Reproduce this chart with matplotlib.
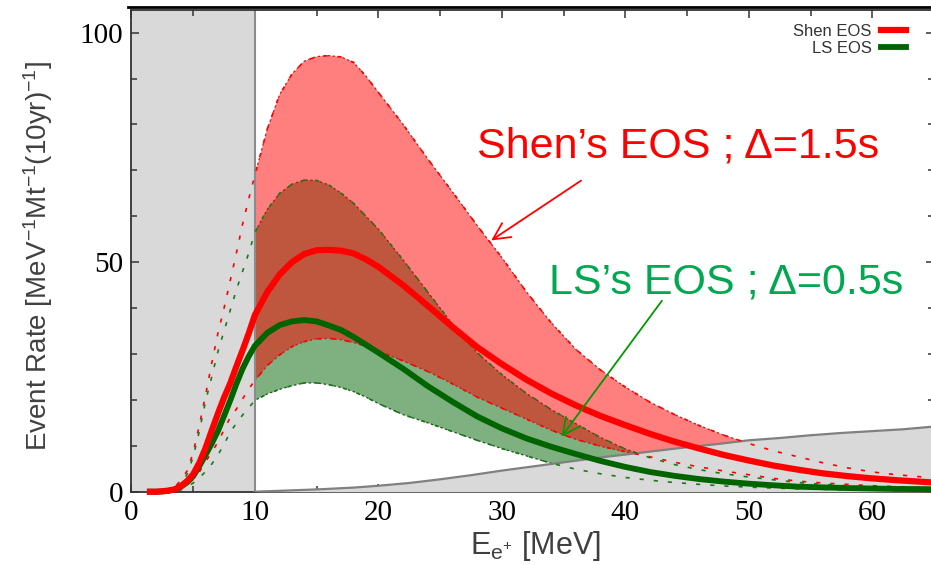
import numpy as np
import matplotlib.pyplot as plt
from matplotlib.ticker import MultipleLocator
from matplotlib.lines import Line2D

# positron energy grid [MeV] and event rates
energy = [1.5, 2, 2.5, 3, 3.5, 4, 4.5, 5, 5.5, 6, 6.5, 7, 7.5, 8, 8.5, 9, 9.5,
          10, 11, 12, 13, 14, 15, 16, 17, 18, 19, 20, 22, 24, 26, 28, 30, 32,
          34, 36, 38, 40, 42, 44, 46, 48, 50, 52, 54, 56, 58, 60, 62, 65]

shen_hi = [0, 0, 0, 0.3, 1.0, 2.5, 4.5, 8.5, 14.5, 21, 28, 34.5, 40, 46, 52, 58.3, 63.8,
           69, 79, 86.5, 91, 93.8, 94.8, 95, 94.7, 93.5, 90.5, 87, 80, 72.5, 65.3, 58, 51, 43.5,
           36.8, 31, 26.5, 22.8, 19.5, 16.8, 14.4, 12.3, 10.5, 8.9, 7.6, 6.3, 5.2, 4.3, 3.7, 3.0]
shen_mid = [0, 0, 0.1, 0.25, 0.5, 1.2, 2.3, 3.8, 6.3, 9.5, 13.3, 17, 20.5, 23.6, 27.3, 30.8, 34.5,
            38.5, 43.5, 47.3, 50, 51.8, 52.6, 52.7, 52.5, 51.9, 50.6, 49.0, 45.0, 40.5, 35.9, 31.5, 27.8, 24.4,
            21.4, 18.8, 16.5, 14.5, 12.6, 10.9, 9.4, 8.0, 6.8, 5.7, 4.8, 4.0, 3.4, 2.9, 2.5, 2.0]
shen_lo = [0, 0, 0, 0, 0.1, 0.6, 1.5, 2.7, 4.3, 6.5, 8.6, 10.8, 13.5, 16.2, 18, 20.2, 22.4,
           24.2, 27.5, 29.8, 31.6, 32.7, 33.3, 33.4, 33.1, 32.5, 31.7, 30.6, 28.5, 26.2, 23.5, 20.6, 18.2, 15.8,
           13.4, 11.4, 9.9, 8.7, 7.6, 6.4, 5.4, 4.5, 3.7, 2.9, 2.3, 1.9, 1.6, 1.3, 1.1, 0.8]

ls_hi = [0, 0, 0, 0, 0.4, 1.5, 3.8, 7.6, 13.2, 19.7, 25, 30.5, 35, 39.5, 44, 48, 52,
         56.5, 61.5, 65, 67, 67.9, 67.8, 66.8, 65, 62.8, 60, 57.2, 50.5, 43.5, 36.5, 30.3, 25.5, 21.4,
         17.9, 14.8, 11.8, 9.3, 7.4, 5.9, 4.8, 3.9, 3.2, 2.6, 2.0, 1.6, 1.3, 1.0, 0.8, 0.6]
ls_mid = [0, 0, 0.05, 0.2, 0.5, 1.1, 2.0, 3.4, 5.6, 8.0, 10.5, 13.2, 16.5, 19.9, 23.5, 26.8, 29.5,
          31.8, 34.6, 36.3, 37.1, 37.4, 37.1, 36.2, 35.2, 33.7, 32, 30.3, 26.8, 23, 19.6, 16.4, 13.8, 11.6,
          9.8, 8.2, 6.7, 5.4, 4.3, 3.45, 2.75, 2.2, 1.75, 1.4, 1.1, 0.95, 0.8, 0.7, 0.6, 0.55]
ls_lo = [0, 0, 0, 0, 0.1, 0.4, 1.0, 1.9, 3.0, 4.4, 6.0, 8.0, 10.3, 13.0, 14.9, 16.7, 18.3,
         19.9, 21.3, 22.3, 23.1, 23.7, 23.7, 23.3, 22.7, 21.8, 20.6, 19.2, 16.8, 15, 13.1, 11.2, 9.4, 7.8,
         6.2, 4.9, 3.9, 3.1, 2.5, 2.0, 1.6, 1.25, 1.0, 0.8, 0.65, 0.5, 0.4, 0.35, 0.3, 0.2]

# background spectrum (grey area)
bg_energy = [10, 12, 15, 18, 20, 22.5, 25, 27.5, 30, 32.5, 35, 37.5, 40, 42.5, 45,
             47.5, 50, 52.5, 55, 57.5, 60, 62.5, 65]
bg_rate = [0, 0.2, 0.5, 0.9, 1.3, 1.9, 2.7, 3.6, 4.6, 5.5, 6.4, 7.3, 8.1, 8.9, 9.7,
           10.4, 11.2, 11.7, 12.3, 12.8, 13.2, 13.6, 14.2]

xticks = [0, 10, 20, 30, 40, 50, 60]
yticks = [0, 50, 100]

plt.rcParams['font.family'] = ['Liberation Sans', 'DejaVu Sans']
plt.rcParams['mathtext.fontset'] = 'custom'
plt.rcParams['mathtext.rm'] = 'Liberation Sans'
plt.rcParams['mathtext.it'] = 'Liberation Sans:italic'

E = np.array(energy)
band = E >= 10

fig = plt.figure(figsize=(9.31, 5.65), dpi=100)
ax = fig.add_axes([0.1412, 0.1297, 0.862, 0.8531])

# threshold region
ax.axvspan(0, 10, color='#d9d9d9', lw=0, zorder=0)
ax.axvline(10, color='#8c8c8c', lw=1.5, zorder=2)

# bands (50% alpha -> overlap turns brown)
ax.fill_between(E, ls_lo, ls_hi, where=band, facecolor=(0, 0.39, 0, 0.5),
                edgecolor='#1f4f1f', lw=0.9, linestyle=(0, (2, 2)), zorder=1)
ax.fill_between(E, shen_lo, shen_hi, where=band, facecolor=(1, 0, 0, 0.5),
                edgecolor='#c02020', lw=0.9, linestyle=(0, (2, 2)), zorder=1)

# background
ax.fill_between(bg_energy, 0, bg_rate, color='#d9d9d9', lw=0, zorder=3)
ax.plot(bg_energy, bg_rate, color='#808080', lw=1.6, zorder=3.5)

# band edges, dashed over full range
for y, c in [(shen_hi, 'red'), (shen_lo, 'red'), (ls_hi, '#1a7a1a'), (ls_lo, '#1a7a1a')]:
    ax.plot(E, y, color=c, lw=1.2, dashes=(2.5, 6), zorder=4)

ax.plot(E, ls_mid, color='#006400', lw=4.2, label='LS EOS', zorder=5, clip_on=False)
ax.plot(E, shen_mid, color='red', lw=4.5, label='Shen EOS', zorder=6, clip_on=False)

ax.annotate('', xy=(28.95, 54.4), xytext=(36.6, 68.1), zorder=7,
            arrowprops=dict(arrowstyle='->,head_length=0.6,head_width=0.3',
                            color='red', lw=1.3, mutation_scale=20))
ax.annotate('', xy=(34.7, 11.5), xytext=(43.1, 42.1), zorder=7,
            arrowprops=dict(arrowstyle='->,head_length=0.6,head_width=0.3',
                            color='#009a00', lw=1.3, mutation_scale=20))
ax.text(28.0, 72.7, 'Shen\u2019s EOS ; \u0394=1.5s', color='red', fontsize=31, va='baseline', zorder=8)
ax.text(33.8, 43.2, 'LS\u2019s EOS ; \u0394=0.5s', color='#00a850', fontsize=31, va='baseline', zorder=8)

ax.set_xlim(0, 65)
ax.set_ylim(0, 105)
ax.set_xticks(xticks, [str(t) for t in xticks], fontfamily='Liberation Serif')
ax.set_yticks(yticks, [str(t) for t in yticks], fontfamily='Liberation Serif')
ax.xaxis.set_minor_locator(MultipleLocator(5))
ax.yaxis.set_minor_locator(MultipleLocator(10))
ax.tick_params(which='both', direction='in', top=True, right=True, labelsize=21,
               color='#333333', width=1.1)
ax.tick_params(which='major', length=6, pad=6)
ax.tick_params(which='minor', length=4)
for s in ax.spines.values():
    s.set_color('#333333')
    s.set_linewidth(1.3)

ax.set_xlabel(r'E$_{\mathrm{e}^{+}}$ [MeV]', fontsize=22, color='#404040')
ax.set_ylabel(r'Event Rate [MeV$^{-1}$Mt$^{-1}$(10yr)$^{-1}$]', fontsize=20, color='#404040')
ax.xaxis.set_label_coords(0.503, -0.078)
ax.yaxis.set_label_coords(-0.095, 0.49)

handles, labels = ax.get_legend_handles_labels()
leg = ax.legend(handles[::-1], labels[::-1], loc='upper right', bbox_to_anchor=(0.974, 0.985),
                frameon=False, markerfirst=False, fontsize=12, handlelength=1.5,
                labelspacing=0.15, handletextpad=0.6, borderaxespad=0)
for t in leg.get_texts():
    t.set_color('#333333')

fig.add_artist(Line2D([128 / 931, 1], [1 - 7 / 565] * 2, color='black', lw=2))

fig.savefig('out.png', dpi=100)
